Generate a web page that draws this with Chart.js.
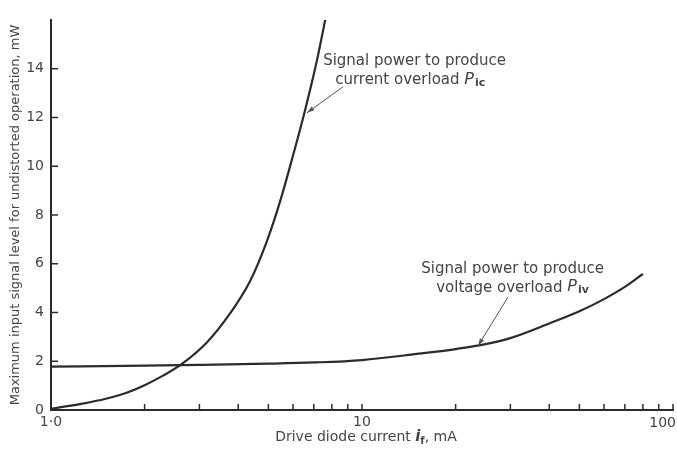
<!DOCTYPE html>
<html lang="en">
<head>
<meta charset="UTF-8">
<title>Maximum input signal level vs drive diode current</title>
<script src="https://cdn.jsdelivr.net/npm/chart.js"></script>
<style>
    html, body { margin: 0; padding: 0; background: #fff; }
</style>
</head>
<body>
<canvas id="chart" width="677" height="452"></canvas>
<script>
    // Current overload curve P_ic (drive current mA, power mW)
    const currentX = [1.0, 1.25, 1.5, 1.75, 2.0, 2.3, 2.63, 3.17, 3.76, 4.36, 4.94, 5.45, 6.01, 6.56, 7.15, 7.66];
    const currentY = [0.05, 0.25, 0.46, 0.71, 1.02, 1.42, 1.88, 2.77, 3.95, 5.27, 6.91, 8.55, 10.47, 12.3, 14.3, 16.16];

    // Voltage overload curve P_iv
    const voltageX = [1.0, 2, 3, 5, 7, 10, 15, 20, 25, 30, 40, 50, 60, 70, 80];
    const voltageY = [1.78, 1.82, 1.85, 1.9, 1.95, 2.05, 2.3, 2.5, 2.7, 2.95, 3.55, 4.05, 4.55, 5.05, 5.58];

    // Axis ticks
    const xLabels = { 1: '1·0', 10: '10' };
    const xLastLabel = '100';
    const xMinorTicks = [2, 3, 4, 5, 6, 7, 8, 9, 10, 20, 30, 40, 50, 60, 70, 80, 90, 100];
    const yTicks = [2, 4, 6, 8, 10, 12, 14];

    const ink = '#2b2b2b';
    const textInk = '#444';
    const fontFamily = '"DejaVu Sans", sans-serif';

    const toPoints = (xs, ys) => xs.map((x, i) => ({ x: x, y: ys[i] }));

    // Labels with subscripts, placed in data coordinates
    const notes = [
        { x: 7.5, y: 14.3, lines: [['Signal power to produce', ''], ['current overload ', 'ic']], indent: 12,
          arrow: { from: [8.69, 13.26], to: [6.65, 12.19] } },
        { x: 15.5, y: 5.8, lines: [['Signal power to produce', ''], ['voltage overload ', 'iv']], indent: 15,
          arrow: { from: [29.5, 4.64], to: [23.6, 2.63] } }
    ];

    const inkPlugin = {
        id: 'inkPlugin',
        afterDraw(chart) {
            const ctx = chart.ctx;
            const xs = chart.scales.x, ys = chart.scales.y;
            const area = chart.chartArea;
            ctx.save();
            ctx.strokeStyle = ink;
            ctx.lineWidth = 1.5;

            // inward y ticks
            yTicks.forEach(v => {
                const py = ys.getPixelForValue(v);
                ctx.beginPath();
                ctx.moveTo(area.left, py);
                ctx.lineTo(area.left + 7, py);
                ctx.stroke();
            });
            // upward x ticks
            xMinorTicks.forEach(v => {
                const px = xs.getPixelForValue(v);
                ctx.beginPath();
                ctx.moveTo(px, area.bottom);
                ctx.lineTo(px, area.bottom - 6);
                ctx.stroke();
            });

            // last x label sits against the right edge
            ctx.fillStyle = textInk;
            ctx.font = '14px ' + fontFamily;
            ctx.textAlign = 'right';
            ctx.textBaseline = 'middle';
            ctx.fillText(xLastLabel, chart.width - 1, area.bottom + 13);

            // annotations
            ctx.textAlign = 'left';
            notes.forEach(n => {
                const left = xs.getPixelForValue(n.x);
                const top = ys.getPixelForValue(n.y);
                n.lines.forEach((ln, i) => {
                    const ly = top + i * 19;
                    const lx = left + (i === 1 ? n.indent : 0);
                    ctx.font = '15px ' + fontFamily;
                    ctx.fillText(ln[0], lx, ly);
                    if (ln[1]) {
                        let w = ctx.measureText(ln[0]).width;
                        ctx.font = 'italic 16px ' + fontFamily;
                        ctx.fillText('P', lx + w, ly - 1);
                        w += ctx.measureText('P').width + 1;
                        ctx.font = 'bold 11px ' + fontFamily;
                        ctx.fillText(ln[1], lx + w, ly + 3);
                    }
                });
                const a = n.arrow;
                const x1 = xs.getPixelForValue(a.from[0]), y1 = ys.getPixelForValue(a.from[1]);
                const x2 = xs.getPixelForValue(a.to[0]), y2 = ys.getPixelForValue(a.to[1]);
                ctx.strokeStyle = '#555';
                ctx.lineWidth = 1;
                ctx.beginPath();
                ctx.moveTo(x1, y1);
                ctx.lineTo(x2, y2);
                ctx.stroke();
                const ang = Math.atan2(y2 - y1, x2 - x1);
                ctx.fillStyle = '#555';
                ctx.beginPath();
                ctx.moveTo(x2, y2);
                ctx.lineTo(x2 - 8 * Math.cos(ang - 0.3), y2 - 8 * Math.sin(ang - 0.3));
                ctx.lineTo(x2 - 8 * Math.cos(ang + 0.3), y2 - 8 * Math.sin(ang + 0.3));
                ctx.closePath();
                ctx.fill();
                ctx.fillStyle = textInk;
            });

            // x axis title with subscript
            const parts = ['Drive diode current ', 'i', 'f', ', mA'];
            ctx.font = '14px ' + fontFamily;
            const w0 = ctx.measureText(parts[0]).width;
            const w3 = ctx.measureText(parts[3]).width;
            ctx.font = 'italic bold 15px ' + fontFamily;
            const w1 = ctx.measureText(parts[1]).width;
            ctx.font = 'bold 10px ' + fontFamily;
            const w2 = ctx.measureText(parts[2]).width;
            const total = w0 + w1 + w2 + w3;
            let tx = 366 - total / 2;
            const ty = 437;
            ctx.font = '14px ' + fontFamily;
            ctx.fillText(parts[0], tx, ty); tx += w0;
            ctx.font = 'italic bold 15px ' + fontFamily;
            ctx.fillText(parts[1], tx, ty); tx += w1;
            ctx.font = 'bold 10px ' + fontFamily;
            ctx.fillText(parts[2], tx, ty + 4); tx += w2;
            ctx.font = '14px ' + fontFamily;
            ctx.fillText(parts[3], tx, ty);
            ctx.restore();
        }
    };

    new Chart(document.getElementById('chart'), {
        type: 'scatter',
        data: {
            datasets: [{
                label: 'P_ic',
                data: toPoints(currentX, currentY),
                showLine: true,
                borderColor: ink,
                borderWidth: 2.2,
                pointRadius: 0,
                cubicInterpolationMode: 'monotone'
            }, {
                label: 'P_iv',
                data: toPoints(voltageX, voltageY),
                showLine: true,
                borderColor: ink,
                borderWidth: 2.2,
                pointRadius: 0,
                cubicInterpolationMode: 'monotone'
            }]
        },
        options: {
            responsive: false,
            animation: false,
            devicePixelRatio: 1,
            layout: { padding: { left: 0, right: 4, top: 20, bottom: 0 } },
            plugins: {
                legend: { display: false },
                tooltip: { enabled: false }
            },
            scales: {
                x: {
                    type: 'logarithmic',
                    min: 1,
                    max: 100,
                    grid: { display: false, drawTicks: false },
                    border: { display: true, color: ink, width: 2 },
                    ticks: {
                        autoSkip: false,
                        maxRotation: 0,
                        padding: 4,
                        color: textInk,
                        font: { family: fontFamily, size: 14 },
                        callback: v => xLabels[v] ?? ''
                    },
                    afterFit: s => { s.height = 42; s.paddingLeft = 0; s.paddingRight = 0; }
                },
                y: {
                    min: 0,
                    max: 16,
                    grid: { display: false, drawTicks: false },
                    border: { display: true, color: ink, width: 2 },
                    ticks: {
                        stepSize: 2,
                        padding: 7,
                        color: textInk,
                        font: { family: fontFamily, size: 14 },
                        callback: v => (v === 16 ? '' : v)
                    },
                    title: {
                        display: true,
                        text: 'Maximum input signal level for undistorted operation, mW',
                        color: textInk,
                        font: { family: fontFamily, size: 13 },
                        padding: { top: 8, bottom: 0 }
                    },
                    afterFit: s => { s.width = 51; s.paddingTop = 0; s.paddingBottom = 0; }
                }
            }
        },
        plugins: [inkPlugin]
    });
</script>
</body>
</html>
